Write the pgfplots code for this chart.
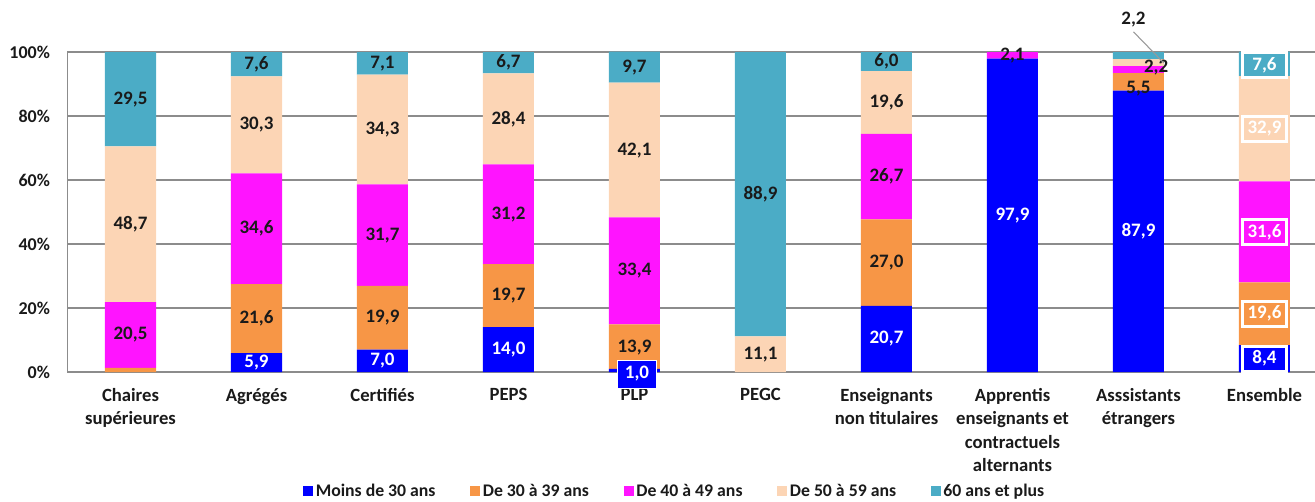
\documentclass[border=0pt]{standalone}
\usepackage{pgfplots}
\pgfplotsset{compat=1.18}
\usepackage{fontspec}
\setmainfont{Carlito}
\definecolor{c1}{HTML}{0000FF}
\definecolor{c2}{HTML}{F79646}
\definecolor{c3}{HTML}{FF14FF}
\definecolor{c4}{HTML}{FCD5B5}
\definecolor{c5}{HTML}{4BACC6}
\definecolor{txt}{HTML}{1A1A1A}
\definecolor{gridc}{HTML}{8C8C8C}
\pgfplotsset{sqlegend/.style={legend image code/.code={\fill[##1] (0pt,-3.75pt) rectangle (7.5pt,3.75pt);}}}
\newcommand{\labfont}{\bfseries\fontsize{14.25}{16}\selectfont}
\newcommand{\lab}[4][txt]{\node[font=\labfont, text=#1, inner sep=0pt] at (#2,#3) {#4};}
\newcommand{\ebox}[4]{\node[font=\labfont, text=white, fill=#1, draw=white, line width=2.25pt, minimum width=33pt, minimum height=18.75pt, inner sep=0pt] at (#2,#3) {#4};}
\begin{document}
\begin{tikzpicture}
\useasboundingbox (0,0) rectangle (986.25pt,375.75pt);
\begin{axis}[
  at={(50.625pt,96.75pt)}, anchor=south west,
  scale only axis, width=935.55pt, height=240pt,
  ybar stacked, bar width=38.25pt,
  xmin=-0.5, xmax=9.4, ymin=0, ymax=100,
  clip=false,
  axis x line*=bottom, axis y line*=left,
  axis line style={gridc, line width=1.1pt, -},
  ymajorgrids, grid style={gridc, line width=1.1pt},
  major tick length=0pt,
  xtick={0,...,9},
  xticklabels={{Chaires\\supérieures},{Agrégés},{Certifiés},{PEPS},{PLP},{PEGC},{Enseignants\\non titulaires},{Apprentis\\enseignants et\\contractuels\\alternants},{Asssistants\\étrangers},{Ensemble}},
  xticklabel style={align=center, font=\bfseries\fontsize{14}{17.5}\selectfont, text=txt, anchor=north, inner sep=0pt, yshift=-12pt},
  ytick={0,20,...,100},
  yticklabel={\pgfmathprintnumber{\tick}\%},
  yticklabel style={font=\bfseries\fontsize{13.5}{15}\selectfont, text=txt, anchor=east, inner sep=0pt, xshift=-13pt},
  /pgf/number format/assume math mode=true,
  legend style={at={(0.487,-0.372)}, anchor=center, draw=none, fill=none, legend columns=-1,
    font=\bfseries\fontsize{13.3}{14}\selectfont, text=txt,
    /tikz/every even column/.append style={column sep=24pt}},
]
\addplot[fill=c1, draw=none, sqlegend] coordinates {(0,0) (1,5.9) (2,7.0) (3,14.0) (4,1.0) (5,0) (6,20.7) (7,97.9) (8,87.9) (9,8.4)};
\addplot[fill=c2, draw=none, sqlegend] coordinates {(0,1.3) (1,21.6) (2,19.9) (3,19.7) (4,13.9) (5,0) (6,27.0) (7,0) (8,5.5) (9,19.6)};
\addplot[fill=c3, draw=none, sqlegend] coordinates {(0,20.5) (1,34.6) (2,31.7) (3,31.2) (4,33.4) (5,0) (6,26.7) (7,2.1) (8,2.2) (9,31.6)};
\addplot[fill=c4, draw=none, sqlegend] coordinates {(0,48.7) (1,30.3) (2,34.3) (3,28.4) (4,42.1) (5,11.1) (6,19.6) (7,0) (8,2.2) (9,32.9)};
\addplot[fill=c5, draw=none, sqlegend] coordinates {(0,29.5) (1,7.6) (2,7.1) (3,6.7) (4,9.7) (5,88.9) (6,6.0) (7,0) (8,2.2) (9,7.6)};
\legend{Moins de 30 ans, De 30 à 39 ans, De 40 à 49 ans, De 50 à 59 ans, 60 ans et plus}
\end{axis}
% data labels, in the axis's own units (1 category = 94.5pt, 1% = 2.4pt)
\begin{scope}[x=94.5pt, y=2.4pt, shift={(97.875pt,96.75pt)}]
\lab{0}{11.55}{20,5}\lab{0}{46.15}{48,7}\lab{0}{85.25}{29,5}
\lab[white]{1}{2.95}{5,9}\lab{1}{16.7}{21,6}\lab{1}{44.8}{34,6}\lab{1}{77.25}{30,3}\lab{1}{96.2}{7,6}
\lab[white]{2}{3.5}{7,0}\lab{2}{16.95}{19,9}\lab{2}{42.75}{31,7}\lab{2}{75.75}{34,3}\lab{2}{96.45}{7,1}
\lab[white]{3}{7}{14,0}\lab{3}{23.85}{19,7}\lab{3}{49.3}{31,2}\lab{3}{79.1}{28,4}\lab{3}{96.65}{6,7}
\node[font=\labfont, text=white, fill=c1, draw=white, line width=0.6pt, minimum width=29pt, minimum height=21pt, inner sep=0pt] at (4.02,-0.6) {1,0};
\lab{4}{7.5}{13,9}\lab{4}{31.6}{33,4}\lab{4}{69.35}{42,1}\lab{4}{95.25}{9,7}
\lab{5}{5.4}{11,1}\lab{5}{55.4}{88,9}
\lab[white]{6}{10.35}{20,7}\lab{6}{34.2}{27,0}\lab{6}{61.05}{26,7}\lab{6}{84.2}{19,6}\lab{6}{97}{6,0}
\lab[white]{7}{48.95}{97,9}\lab{7}{99}{2,1}
\lab[white]{8}{43.95}{87,9}\lab{8}{88.7}{5,5}\lab{8.14}{95.2}{2,2}\lab{7.96}{110}{2,2}
\draw[gray!80, line width=0.8pt] (7.96,106.3) -- (8.2,96.6);
\ebox{c1}{9}{4.2}{8,4}\ebox{c2}{9}{18.2}{19,6}\ebox{c3}{9}{43.8}{31,6}\ebox{c4}{9}{76.05}{32,9}\ebox{c5}{9}{95.9}{7,6}
\end{scope}
\end{tikzpicture}
\end{document}
